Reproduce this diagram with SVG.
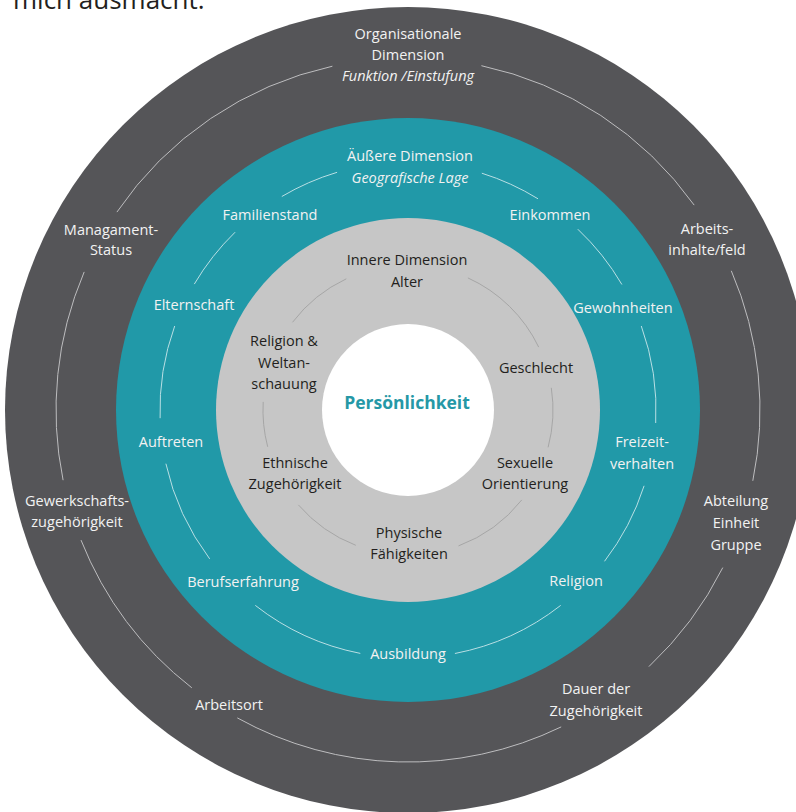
<svg xmlns="http://www.w3.org/2000/svg" width="796" height="812" viewBox="0 0 796 812">
<style>
text{font-family:"Open Sans","Liberation Sans",sans-serif;font-size:14.5px;text-anchor:middle}
.lt{fill:#f2f2f2}
.dk{fill:#231f20}
.it{font-style:italic}
.arc{fill:none;stroke-width:1}
.a1{stroke:#bdbdbf}
.a2{stroke:#b9dfe4}
.a3{stroke:#a6a6a6}
</style>
<rect width="796" height="812" fill="#ffffff"/>
<text x="13" y="9" style="font-size:26px;text-anchor:start" class="dk">mich ausmacht.</text>
<g id="ring-outer"><circle cx="408" cy="410" r="403" fill="#555558"/></g>
<g id="ring-middle"><circle cx="408" cy="410" r="292" fill="#2199a8"/></g>
<g id="ring-inner"><circle cx="408" cy="410" r="192" fill="#c6c6c6"/></g>
<g id="core"><circle cx="408" cy="410" r="86" fill="#ffffff"/>
<text x="407" y="409" style="font-size:17.5px;font-weight:bold;fill:#2598a6">Persönlichkeit</text></g>
<g id="connectors">
<path class="arc a1" d="M116.9 212.1A352 352 0 0 1 332.4 66.2"/>
<path class="arc a1" d="M481.4 65.7A352 352 0 0 1 694.2 205.1"/>
<path class="arc a1" d="M731.3 270.8A352 352 0 0 1 752.8 480.8"/>
<path class="arc a1" d="M722.8 567.6A352 352 0 0 1 648.9 666.6"/>
<path class="arc a1" d="M561.2 726.9A352 352 0 0 1 237.3 717.9"/>
<path class="arc a1" d="M191.8 687.8A352 352 0 0 1 81.0 540.1"/>
<path class="arc a1" d="M63.1 480.2A352 352 0 0 1 84.2 271.9"/>
<path class="arc a2" d="M281.8 196.5A248 248 0 0 1 337.1 172.3"/>
<path class="arc a2" d="M481.8 173.2A248 248 0 0 1 538.0 198.8"/>
<path class="arc a2" d="M194.3 284.1A248 248 0 0 1 235.1 232.2"/>
<path class="arc a2" d="M160.1 418.2A248 248 0 0 1 174.7 326.0"/>
<path class="arc a2" d="M209.7 558.9A248 248 0 0 1 165.9 463.7"/>
<path class="arc a2" d="M360.3 653.4A248 248 0 0 1 255.3 605.4"/>
<path class="arc a2" d="M560.7 605.4A248 248 0 0 1 454.9 653.5"/>
<path class="arc a2" d="M577.8 229.2A248 248 0 0 1 621.9 284.5"/>
<path class="arc a2" d="M641.3 326.0A248 248 0 0 1 655.7 423.0"/>
<path class="arc a2" d="M644.1 485.8A248 248 0 0 1 604.5 561.3"/>
<path class="arc a3" d="M292.5 322.3A145 145 0 0 1 346.3 278.8"/>
<path class="arc a3" d="M467.9 277.9A145 145 0 0 1 538.7 347.1"/>
<path class="arc a3" d="M551.3 387.8A145 145 0 0 1 548.1 447.3"/>
<path class="arc a3" d="M267.7 446.8A145 145 0 0 1 263.2 401.9"/>
<path class="arc a3" d="M355.8 545.3A145 145 0 0 1 298.4 504.9"/>
<path class="arc a3" d="M521.8 499.9A145 145 0 0 1 458.5 545.9"/>
</g>
<g id="labels-outer" class="lt">
<text x="408" y="39">Organisationale</text>
<text x="408" y="60">Dimension</text>
<text x="408" y="81" class="it">Funktion /Einstufung</text>
<text x="111" y="235">Managament-</text>
<text x="111" y="255">Status</text>
<text x="707" y="234">Arbeits-</text>
<text x="707" y="255">inhalte/feld</text>
<text x="77" y="506">Gewerkschafts-</text>
<text x="77" y="527">zugehörigkeit</text>
<text x="736" y="506">Abteilung</text>
<text x="736" y="528">Einheit</text>
<text x="736" y="550">Gruppe</text>
<text x="229" y="710">Arbeitsort</text>
<text x="596" y="694">Dauer der</text>
<text x="596" y="716">Zugehörigkeit</text>
</g>
<g id="labels-middle" class="lt">
<text x="410" y="161">Äußere Dimension</text>
<text x="410" y="183" class="it">Geografische Lage</text>
<text x="270" y="220">Familienstand</text>
<text x="550" y="220">Einkommen</text>
<text x="194" y="310">Elternschaft</text>
<text x="623" y="313">Gewohnheiten</text>
<text x="171" y="447">Auftreten</text>
<text x="642" y="447">Freizeit-</text>
<text x="642" y="469">verhalten</text>
<text x="243" y="587">Berufserfahrung</text>
<text x="576" y="586">Religion</text>
<text x="408" y="659">Ausbildung</text>
</g>
<g id="labels-inner" class="dk">
<text x="407" y="265">Innere Dimension</text>
<text x="407" y="287">Alter</text>
<text x="284" y="346">Religion &amp;</text>
<text x="284" y="368">Weltan-</text>
<text x="284" y="389">schauung</text>
<text x="536" y="373">Geschlecht</text>
<text x="295" y="468">Ethnische</text>
<text x="295" y="489">Zugehörigkeit</text>
<text x="525" y="468">Sexuelle</text>
<text x="525" y="489">Orientierung</text>
<text x="409" y="538">Physische</text>
<text x="409" y="559">Fähigkeiten</text>
</g>
</svg>
